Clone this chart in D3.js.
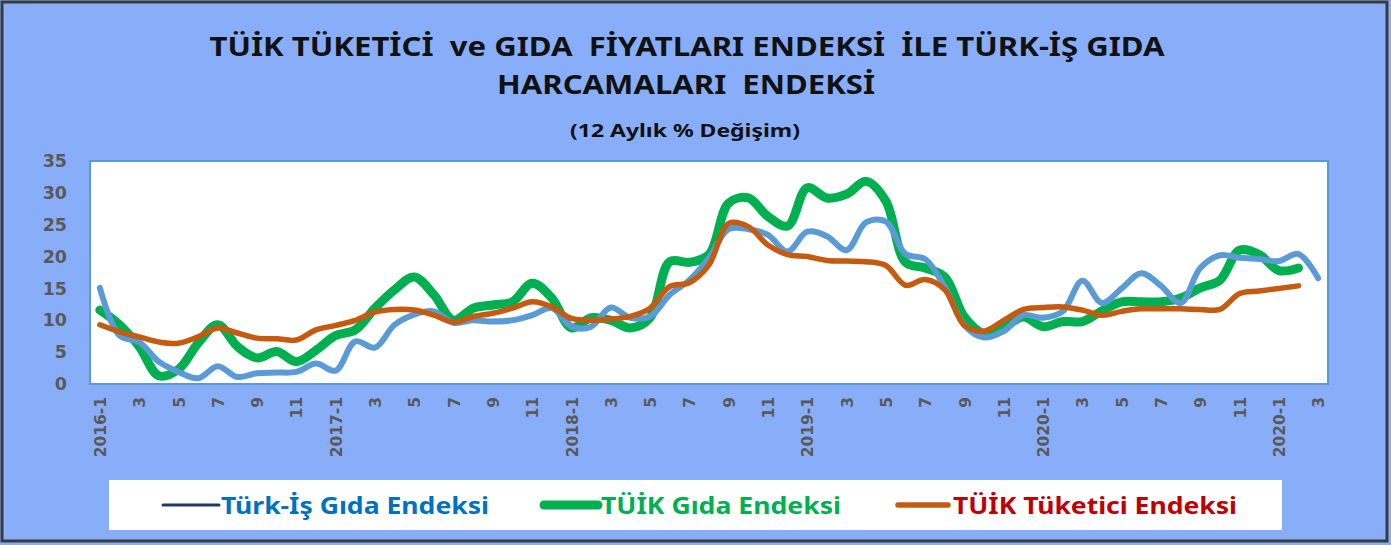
<!DOCTYPE html>
<html>
<head>
<meta charset="utf-8">
<script src="https://cdn.jsdelivr.net/npm/d3@7"></script>
<style>
  body { margin: 0; background: #fff; }
  svg { display: block; }
  .title { white-space: pre; }
</style>
</head>
<body>
<div id="chart"></div>
<script>
// category labels as they appear on the axis (the 2021 label reads "2020-1" in the source)
const categories = [
  "2016-1","2","3","4","5","6","7","8","9","10","11","12",
  "2017-1","2","3","4","5","6","7","8","9","10","11","12",
  "2018-1","2","3","4","5","6","7","8","9","10","11","12",
  "2019-1","2","3","4","5","6","7","8","9","10","11","12",
  "2020-1","2","3","4","5","6","7","8","9","10","11","12",
  "2020-1","2","3"
];

const turkIs = [
  15.1, 7.6, 6.6, 3.5, 1.9, 0.9, 2.8, 1.1, 1.7, 1.8, 1.9, 3.2,
  2.1, 6.7, 5.7, 9.3, 10.9, 11.4, 9.6, 10.0, 9.8, 10.0, 10.8, 11.9,
  9.0, 9.0, 12.0, 10.4, 10.6, 14.0, 16.3, 19.8, 24.3, 24.3, 23.4, 20.8,
  23.9, 23.2, 21.0, 25.4, 25.5, 20.4, 19.6, 15.2, 9.2, 7.3, 8.3, 10.8,
  10.4, 11.4, 16.2, 12.7, 15.0, 17.4, 15.4, 12.7, 18.2, 20.2, 19.8, 19.6,
  19.3, 20.4, 16.6
];

const tuikGida = [
  11.6, 9.3, 5.9, 1.3, 2.3, 6.4, 9.3, 5.9, 4.1, 5.1, 3.5, 5.3,
  7.6, 8.5, 11.9, 14.8, 16.8, 14.0, 10.0, 11.9, 12.4, 12.9, 15.8, 13.5,
  8.8, 10.4, 10.0, 8.8, 10.4, 19.2, 19.1, 20.3, 28.4, 29.2, 26.3, 24.8,
  30.8, 29.2, 29.8, 31.8, 28.7, 19.1, 18.2, 16.8, 10.5, 7.9, 8.9, 10.5,
  9.0, 9.8, 9.8, 11.5, 12.9, 12.9, 12.9, 13.5, 15.1, 16.3, 21.0, 20.3,
  17.8, 18.2
];

const tuikTuketici = [
  9.3, 8.2, 7.4, 6.6, 6.4, 7.4, 8.8, 8.0, 7.2, 7.1, 6.9, 8.5,
  9.2, 10.0, 11.3, 11.7, 11.6, 10.8, 9.7, 10.6, 11.1, 11.9, 12.9, 12.1,
  10.3, 10.0, 10.2, 10.6, 11.9, 15.3, 15.9, 18.7, 25.2, 24.7, 21.8, 20.3,
  20.0, 19.4, 19.3, 19.2, 18.6, 15.5, 16.4, 14.8, 9.2, 8.3, 10.0, 11.7,
  12.0, 12.1, 11.6, 10.8, 11.4, 11.8, 11.8, 11.8, 11.7, 11.7, 14.2, 14.6,
  15.0, 15.4
];

const yTicks = [0, 5, 10, 15, 20, 25, 30, 35];

const W = 1391, H = 545;
const plot = { left: 90, right: 1328, top: 161, bottom: 384 };

const svg = d3.select("#chart").append("svg")
  .attr("width", W)
  .attr("height", H);

// background + frame
svg.append("rect")
  .attr("x", 0).attr("y", 0).attr("width", W).attr("height", H)
  .attr("fill", "#89aef9");
svg.append("rect")
  .attr("x", 2).attr("y", 2).attr("width", W - 6).attr("height", H - 6)
  .attr("fill", "none")
  .attr("stroke", "#3a3a3a")
  .attr("stroke-width", 3);

// title
const titleFont = "'Noto Sans', 'Open Sans', sans-serif";
svg.append("text")
  .attr("class", "title")
  .attr("x", 687).attr("y", 56)
  .attr("text-anchor", "middle")
  .attr("font-family", titleFont)
  .attr("font-weight", 700)
  .attr("font-size", 27)
  .attr("fill", "#111")
  .attr("textLength", 955)
  .attr("lengthAdjust", "spacingAndGlyphs")
  .text("TÜİK TÜKETİCİ  ve GIDA  FİYATLARI ENDEKSİ  İLE TÜRK-İŞ GIDA");
svg.append("text")
  .attr("class", "title")
  .attr("x", 686).attr("y", 94)
  .attr("text-anchor", "middle")
  .attr("font-family", titleFont)
  .attr("font-weight", 700)
  .attr("font-size", 27)
  .attr("fill", "#111")
  .attr("textLength", 378)
  .attr("lengthAdjust", "spacingAndGlyphs")
  .text("HARCAMALARI  ENDEKSİ");
svg.append("text")
  .attr("x", 685).attr("y", 137)
  .attr("text-anchor", "middle")
  .attr("font-family", titleFont)
  .attr("font-weight", 700)
  .attr("font-size", 18)
  .attr("fill", "#111")
  .attr("textLength", 230)
  .attr("lengthAdjust", "spacingAndGlyphs")
  .text("(12 Aylık % Değişim)");

// plot area
svg.append("rect")
  .attr("x", plot.left).attr("y", plot.top)
  .attr("width", plot.right - plot.left)
  .attr("height", plot.bottom - plot.top)
  .attr("fill", "#ffffff")
  .attr("stroke", "#5b9bd5")
  .attr("stroke-width", 2);

const x = d3.scaleLinear()
  .domain([-0.5, categories.length - 0.5])
  .range([plot.left, plot.right]);

const y = d3.scaleLinear()
  .domain([0, 35])
  .range([plot.bottom, plot.top]);

// y axis
const yAxis = svg.append("g")
  .attr("transform", `translate(${plot.left},0)`)
  .call(d3.axisLeft(y).tickValues(yTicks).tickSize(0).tickPadding(23));
yAxis.select(".domain").remove();
yAxis.selectAll("text")
  .attr("font-family", "'DejaVu Sans', sans-serif")
  .attr("font-weight", 700)
  .attr("font-size", 17.5)
  .attr("fill", "#595959");

// x axis
const xAxis = svg.append("g")
  .attr("transform", `translate(0,${plot.bottom})`)
  .call(d3.axisBottom(x)
    .tickValues(d3.range(0, categories.length, 2))
    .tickFormat(i => categories[i])
    .tickSize(0));
xAxis.select(".domain").remove();
xAxis.selectAll("text")
  .attr("transform", "rotate(-90)")
  .attr("text-anchor", "end")
  .attr("x", -13)
  .attr("y", 0)
  .attr("dy", "0.36em")
  .attr("font-family", "'DejaVu Sans', sans-serif")
  .attr("font-weight", 700)
  .attr("font-size", 15.5)
  .attr("fill", "#595959");

// lines
const line = d3.line()
  .x((d, i) => x(i))
  .y(d => y(d))
  .curve(d3.curveCatmullRom.alpha(0.5));

svg.append("path")
  .datum(tuikGida)
  .attr("d", line)
  .attr("fill", "none")
  .attr("stroke", "#00b050")
  .attr("stroke-width", 9)
  .attr("stroke-linecap", "round")
  .attr("stroke-linejoin", "round");

svg.append("path")
  .datum(turkIs)
  .attr("d", line)
  .attr("fill", "none")
  .attr("stroke", "#203864")
  .attr("stroke-width", 3)
  .attr("stroke-linecap", "round");

svg.append("path")
  .datum(turkIs)
  .attr("d", line)
  .attr("fill", "none")
  .attr("stroke", "#5b9bd5")
  .attr("stroke-width", 6)
  .attr("stroke-linecap", "round")
  .attr("stroke-linejoin", "round");

svg.append("path")
  .datum(tuikTuketici)
  .attr("d", line)
  .attr("fill", "none")
  .attr("stroke", "#c55a11")
  .attr("stroke-width", 5.5)
  .attr("stroke-linecap", "round")
  .attr("stroke-linejoin", "round");

// legend
svg.append("rect")
  .attr("x", 109).attr("y", 480)
  .attr("width", 1173).attr("height", 50)
  .attr("fill", "#ffffff");

const legendItems = [
  { name: "Türk-İş Gıda Endeksi", color: "#203864", text: "#0070c0", width: 3, x1: 163, x2: 219, tx: 221, tl: 268 },
  { name: "TÜİK Gıda Endeksi", color: "#00b050", text: "#00b050", width: 9, x1: 544, x2: 598, tx: 601, tl: 240 },
  { name: "TÜİK Tüketici Endeksi", color: "#c55a11", text: "#c00000", width: 5.5, x1: 898, x2: 948, tx: 953, tl: 284 }
];

const lg = svg.selectAll(".legend-item")
  .data(legendItems)
  .join("g")
  .attr("class", "legend-item");

lg.append("line")
  .attr("x1", d => d.x1).attr("x2", d => d.x2)
  .attr("y1", 505).attr("y2", 505)
  .attr("stroke", d => d.color)
  .attr("stroke-width", d => d.width)
  .attr("stroke-linecap", "round");

lg.append("text")
  .attr("x", d => d.tx).attr("y", 514)
  .attr("font-family", titleFont)
  .attr("font-weight", 700)
  .attr("font-size", 24)
  .attr("fill", d => d.text)
  .attr("textLength", d => d.tl)
  .attr("lengthAdjust", "spacingAndGlyphs")
  .text(d => d.name);
</script>
</body>
</html>
